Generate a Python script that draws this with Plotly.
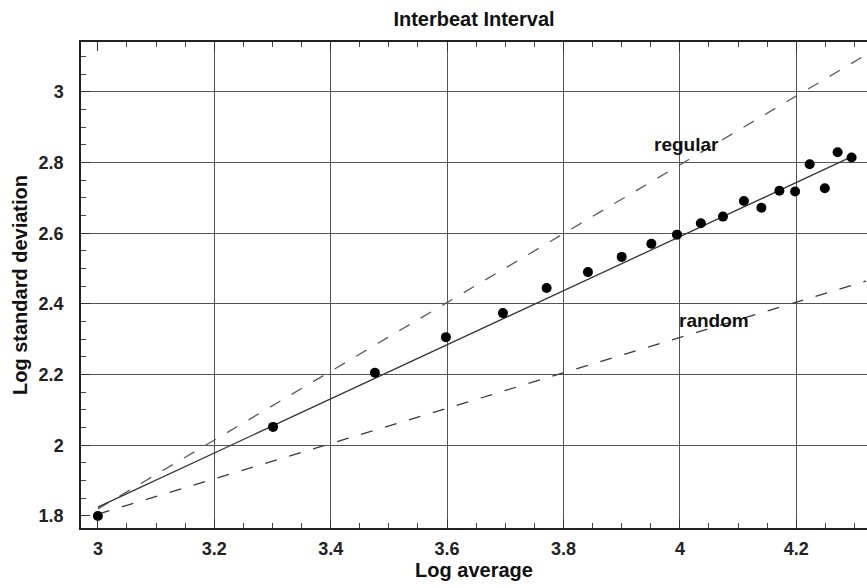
import plotly.graph_objects as go

# Data
log_avg = [3.0, 3.301, 3.476, 3.598, 3.696, 3.771, 3.842, 3.900, 3.951, 3.995,
           4.036, 4.074, 4.110, 4.140, 4.171, 4.198, 4.223, 4.249, 4.271, 4.295]
log_sd = [1.80, 2.052, 2.205, 2.306, 2.374, 2.445, 2.490, 2.533, 2.570, 2.596,
          2.628, 2.647, 2.691, 2.672, 2.720, 2.718, 2.795, 2.727, 2.829, 2.814]

fit_x = [3.0, 4.30]
fit_y = [1.825, 2.820]
regular_x = [3.0, 4.32]
regular_y = [1.82, 3.105]
random_x = [3.0, 4.32]
random_y = [1.805, 2.465]

x_grid = [3.2, 3.4, 3.6, 3.8, 4, 4.2]
y_grid = [2, 2.2, 2.4, 2.6, 2.8, 3]

FONT = "Liberation Sans, Arial, Helvetica, sans-serif"
XR = [2.971, 4.3215]
YR = [1.766, 3.141]

fig = go.Figure()
# traces on the main axes (grid axes)
fig.add_trace(go.Scatter(x=regular_x, y=regular_y, mode="lines",
                         line=dict(color="#5a5a5a", width=1.3, dash="12px,13px"),
                         showlegend=False))
fig.add_trace(go.Scatter(x=random_x, y=random_y, mode="lines",
                         line=dict(color="#3a3a3a", width=1.3, dash="12px,13px"),
                         showlegend=False))
fig.add_trace(go.Scatter(x=fit_x, y=fit_y, mode="lines",
                         line=dict(color="#333333", width=1.3),
                         showlegend=False))
fig.add_trace(go.Scatter(x=log_avg, y=log_sd, mode="markers",
                         marker=dict(color="black", size=10),
                         showlegend=False))
# dummy trace for the labelled axes
fig.add_trace(go.Scatter(x=[None], y=[None], xaxis="x2", yaxis="y2",
                         showlegend=False, hoverinfo="skip"))

fig.add_annotation(x=4.012, y=2.852, text="regular", showarrow=False,
                   font=dict(family=FONT, size=19, color="#111111", weight="bold"))
fig.add_annotation(x=4.058, y=2.352, text="random", showarrow=False,
                   font=dict(family=FONT, size=19, color="#111111", weight="bold"))

tickfont = dict(family=FONT, size=18, color="#222222", weight="bold")
fig.update_layout(
    width=867, height=588,
    margin=dict(l=81, r=0, t=42, b=60),
    paper_bgcolor="white", plot_bgcolor="white",
    title=dict(text="Interbeat Interval", x=(81 + 867) / 2 / 867, xref="container",
               xanchor="center", y=(588 - 19) / 588, yref="container", yanchor="middle",
               font=dict(family=FONT, size=20, color="#111111", weight="bold")),
    xaxis=dict(range=XR, tickmode="array", tickvals=x_grid,
               showgrid=True, gridcolor="#555555", gridwidth=1.3,
               showticklabels=False, ticks="", zeroline=False, showline=False),
    yaxis=dict(range=YR, tickmode="array", tickvals=y_grid,
               showgrid=True, gridcolor="#555555", gridwidth=1.3,
               showticklabels=False, ticks="", zeroline=False, showline=False),
    xaxis2=dict(range=XR, overlaying="x", side="bottom", anchor="y2",
                tickmode="linear", tick0=3, dtick=0.2,
                showgrid=False, zeroline=False,
                showline=True, linecolor="#222222", linewidth=1.5, mirror="ticks",
                ticks="inside", ticklen=9, tickcolor="#333333", tickwidth=1.4,
                minor=dict(tick0=3, dtick=0.05, ticks="inside", ticklen=5,
                           tickcolor="#444444", tickwidth=1.3, showgrid=False),
                tickfont=tickfont, ticklabelstandoff=4,
                title=dict(text="Log average", standoff=5,
                           font=dict(family=FONT, size=20, color="#111111", weight="bold"))),
    yaxis2=dict(range=YR, overlaying="y", side="left", anchor="x2",
                tickmode="linear", tick0=1.8, dtick=0.2,
                showgrid=False, zeroline=False,
                showline=True, linecolor="#222222", linewidth=1.5, mirror=False,
                ticks="inside", ticklen=9, tickcolor="#333333", tickwidth=1.4,
                minor=dict(tick0=1.8, dtick=0.05, ticks="inside", ticklen=5,
                           tickcolor="#444444", tickwidth=1.3, showgrid=False),
                tickfont=tickfont, ticklabelstandoff=12,
                title=dict(text="Log standard deviation", standoff=6,
                           font=dict(family=FONT, size=20, color="#111111", weight="bold"))),
)

fig.write_html("out.html")
